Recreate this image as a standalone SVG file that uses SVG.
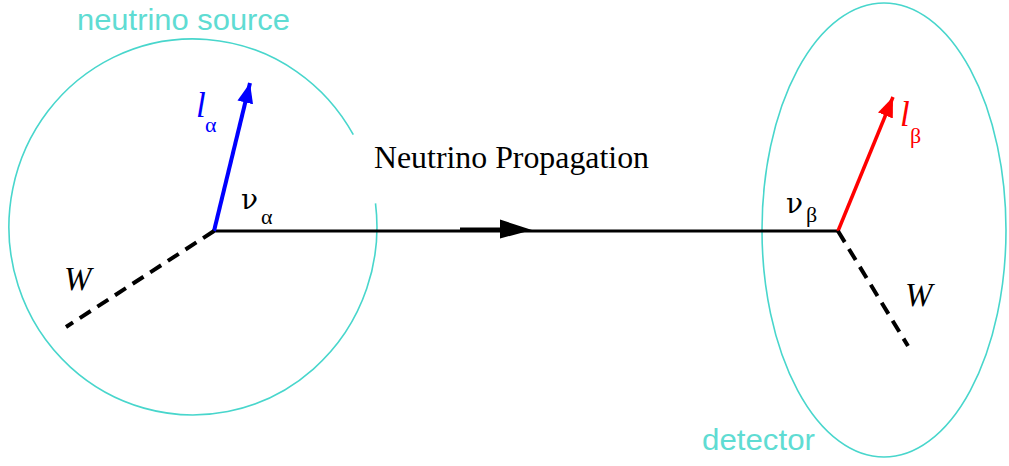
<svg xmlns="http://www.w3.org/2000/svg" width="1009" height="466" viewBox="0 0 1009 466">
<style>
.region{fill:none;stroke:#48d6cc;stroke-width:1.6}
.rlabel{font-family:"Liberation Sans",Arial,sans-serif;font-size:30px;fill:#5fdcd3}
.serif{font-family:"Liberation Serif","Times New Roman",serif;fill:#000}
.it{font-style:italic}
.nu{font-family:"DejaVu Serif","Liberation Serif",serif;fill:#000}
.dash{fill:none;stroke:#000;stroke-width:4;stroke-dasharray:13 8}
</style>
<defs>
<marker id="ahBlue" markerUnits="userSpaceOnUse" markerWidth="22" markerHeight="18" refX="20" refY="8" orient="auto" viewBox="0 0 22 16">
<path d="M0,0 L20,8 L0,16 Z" fill="#0000ff"/>
</marker>
<marker id="ahRed" markerUnits="userSpaceOnUse" markerWidth="22" markerHeight="18" refX="20" refY="8" orient="auto" viewBox="0 0 22 16">
<path d="M0,0 L20,8 L0,16 Z" fill="#ff0000"/>
</marker>
</defs>
<g id="source">
<path class="region" d="M375.5,203.4 A184,188 0 1 1 353.3,134.7"/>
<text class="rlabel" x="77" y="30" textLength="213" lengthAdjust="spacingAndGlyphs">neutrino source</text>
</g>
<g id="detector">
<ellipse class="region" cx="884" cy="230" rx="122" ry="227"/>
<text class="rlabel" x="702" y="450" textLength="113" lengthAdjust="spacingAndGlyphs">detector</text>
</g>
<g id="connectors">
<line x1="214" y1="231" x2="838" y2="231" stroke="#000" stroke-width="3.2"/>
<line x1="460" y1="229.5" x2="505" y2="229.5" stroke="#000" stroke-width="4"/>
<path d="M500,219.5 L532,230 L500,238.5 Z" fill="#000"/>
<line x1="214" y1="231" x2="250" y2="83" stroke="#0000ff" stroke-width="4" marker-end="url(#ahBlue)"/>
<line x1="838" y1="231" x2="893" y2="97" stroke="#ff0000" stroke-width="3.5" marker-end="url(#ahRed)"/>
<line class="dash" x1="214" y1="231" x2="66" y2="327"/>
<line class="dash" x1="838" y1="231" x2="908" y2="346"/>
</g>
<g id="labels">
<text class="serif" x="374" y="168" font-size="31" textLength="275" lengthAdjust="spacingAndGlyphs">Neutrino Propagation</text>
<text class="nu" x="241" y="209" font-size="28">ν</text>
<text class="serif" x="261" y="224" font-size="22">α</text>
<text class="serif it" x="196" y="117" font-size="35" style="fill:#0000ff">l</text>
<text class="serif" x="205" y="132" font-size="22" style="fill:#0000ff">α</text>
<text class="nu" x="786" y="213" font-size="28">ν</text>
<text class="serif" x="806" y="222" font-size="22">β</text>
<text class="serif it" x="900" y="126" font-size="35" style="fill:#ff0000">l</text>
<text class="serif" x="910" y="143" font-size="22" style="fill:#ff0000">β</text>
<text class="serif it" x="64" y="290" font-size="33">W</text>
<text class="serif it" x="905" y="306" font-size="33">W</text>
</g>
</svg>
